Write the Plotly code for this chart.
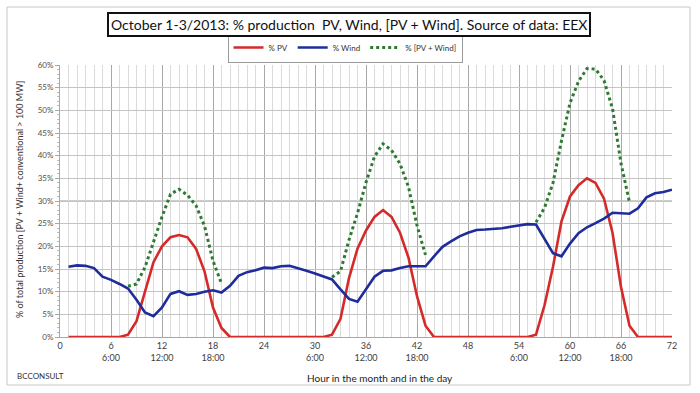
import plotly.graph_objects as go

hours = list(range(1, 73))

pv = [0, 0, 0, 0, 0, 0, 0, 0.5, 3.5, 10, 16.5, 20, 22, 22.5, 22, 19.5, 14.5, 6.5, 2, 0,
      0, 0, 0, 0, 0, 0, 0, 0, 0, 0, 0, 0.5, 4, 13, 19.5, 23.5, 26.5, 28, 26.5, 23,
      17.5, 9, 2.5, 0, 0, 0, 0, 0, 0, 0, 0, 0, 0, 0, 0, 0.5, 7, 15.5, 25.5, 31,
      33.5, 35, 34, 30.5, 23, 11, 2.5, 0, 0, 0, 0, 0]

wind = [15.5, 15.8, 15.7, 15.2, 13.3, 12.6, 11.7, 10.7, 8.2, 5.4, 4.6, 6.5, 9.5, 10.1, 9.3, 9.5,
        10.0, 10.3, 9.8, 11.3, 13.5, 14.3, 14.7, 15.3, 15.2, 15.6, 15.7, 15.2, 14.6, 14.0,
        13.4, 12.7, 10.5, 8.4, 7.8, 10.6, 13.3, 14.6, 14.7, 15.2, 15.6, 15.6, 15.6, 17.8,
        19.9, 21.1, 22.2, 23.0, 23.6, 23.7, 23.8, 24.0, 24.3, 24.6, 24.9, 24.8, 21.5, 18.5,
        17.8, 20.6, 22.9, 24.2, 25.1, 26.1, 27.4, 27.3, 27.2, 28.4, 30.8, 31.7, 32.0, 32.5]

# % [PV + Wind] is only plotted while PV is producing
total = [p + w if p > 0 else None for p, w in zip(pv, wind)]

tick_vals = list(range(0, 73, 6))
tick_day = ["", "6:00", "12:00", "18:00", "", "6:00", "12:00", "18:00", "", "6:00", "12:00", "18:00", ""]
tick_text = [f"{v}<br>{d}" if d else f"{v}<br> " for v, d in zip(tick_vals, tick_day)]

FONT = "Lato"

fig = go.Figure()
fig.add_trace(go.Scatter(x=hours, y=pv, name="% PV", mode="lines",
                         line=dict(color="#d42a2a", width=2.6)))
fig.add_trace(go.Scatter(x=hours, y=wind, name="% Wind", mode="lines",
                         line=dict(color="#1f2c9c", width=2.6)))
fig.add_trace(go.Scatter(x=hours, y=total, name="% [PV + Wind]", mode="lines",
                         line=dict(color="#2f7a32", width=3, dash="dot"), connectgaps=False))

def px(x):
    return (x - 60) / 612.0

def py(y):
    return (337 - y) / 272.0

fig.update_layout(
    width=700, height=393,
    margin=dict(l=60, r=28, t=65, b=56, autoexpand=False),
    paper_bgcolor="white", plot_bgcolor="white",
    font=dict(family=FONT, size=9, color="#404040"),
    showlegend=True,
    legend=dict(orientation="h", x=px(345), xanchor="center", y=py(47.5), yanchor="middle",
                bordercolor="#9a9a9a", borderwidth=1, bgcolor="white",
                font=dict(size=8, color="#333333"), itemwidth=30, tracegroupgap=0),
    xaxis=dict(range=[0, 72], tickmode="array", tickvals=tick_vals, ticktext=tick_text,
               showgrid=True, gridcolor="#a8a8a8", gridwidth=1,
               minor=dict(dtick=1, showgrid=True, gridcolor="#dadada", gridwidth=1),
               zeroline=False, showline=True, linecolor="#a8a8a8",
               ticks="", tickfont=dict(size=9, color="#404040")),
    yaxis=dict(range=[0, 60], dtick=5, ticksuffix="%", showgrid=True, gridcolor="#c4c4c4",
               zeroline=False, showline=True, linecolor="#a8a8a8",
               ticks="outside", ticklen=4, tickcolor="#a8a8a8",
               minor=dict(dtick=1, ticks="outside", ticklen=2, tickcolor="#bdbdbd", showgrid=False),
               tickfont=dict(size=8, color="#505050")),
)

shapes = [
    dict(type="rect", xref="paper", yref="paper", x0=px(7), x1=px(690), y0=py(385), y1=py(7),
         line=dict(color="#c8c8c8", width=1), layer="below"),
    dict(type="line", xref="paper", yref="y", x0=0, x1=1, y0=30, y1=30,
         line=dict(color="#9a9a9a", width=1.2), layer="below"),
]
fig.update_layout(shapes=shapes)

fig.add_annotation(xref="paper", yref="paper", x=px(349), y=py(24), xanchor="center", yanchor="middle",
                   text="October 1-3/2013: % production  PV, Wind, [PV + Wind]. Source of data: EEX",
                   showarrow=False, font=dict(family=FONT, size=14, color="#111111"),
                   bordercolor="#111111", borderwidth=2, borderpad=2, bgcolor="white")
fig.add_annotation(xref="paper", yref="paper", x=px(380), y=py(378), xanchor="center", yanchor="middle",
                   text="Hour in the month and in the day", showarrow=False,
                   font=dict(family=FONT, size=10, color="#222222"))
fig.add_annotation(xref="paper", yref="paper", x=px(15), y=py(376), xanchor="left", yanchor="middle",
                   text="BCCONSULT", showarrow=False,
                   font=dict(family=FONT, size=8, color="#333333"))
fig.add_annotation(xref="paper", yref="paper", x=px(19), y=py(200), xanchor="center", yanchor="middle",
                   text="% of total production [PV + Wind+ conventional > 100 MW]", textangle=-90,
                   showarrow=False, font=dict(family=FONT, size=9, color="#333333"))

fig.write_html("out.html", config={"displayModeBar": False},
               post_script="document.body.style.margin='0';")
